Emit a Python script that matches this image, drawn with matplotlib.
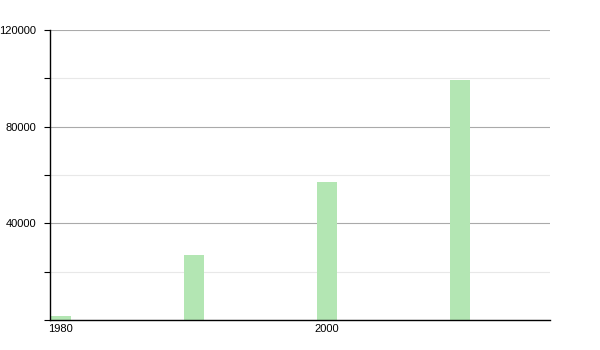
import matplotlib

matplotlib.use("Agg")
import matplotlib.pyplot as plt
from matplotlib.ticker import MultipleLocator

years = [1980, 1990, 2000, 2010]
values = [1700, 26800, 57000, 99500]
x_ticks = [1980, 2000]
y_major = [40000, 80000, 120000]

plt.rcParams["font.family"] = ["Liberation Sans", "DejaVu Sans"]

fig = plt.figure(figsize=(6, 3.5), dpi=100)
ax = fig.add_axes([50 / 600, 30 / 350, 500 / 600, 290 / 350])

ax.bar(years, values, width=1.5, color="#b3e6b3", zorder=2)

ax.set_xlim(1979.2, 2016.8)
ax.set_ylim(0, 120000)

ax.set_xticks(x_ticks)
ax.set_xticklabels([str(t) for t in x_ticks])
ax.tick_params(axis="x", length=0, pad=3, labelsize=8)

ax.set_yticks(y_major)
ax.set_yticklabels([str(t) for t in y_major])
ax.yaxis.set_minor_locator(MultipleLocator(20000))
ax.tick_params(axis="y", which="both", length=4.5, width=0.8, pad=5.5, labelsize=8)

ax.grid(axis="y", which="major", color="#aaaaaa", linewidth=0.8, zorder=0)
ax.grid(axis="y", which="minor", color="#e8e8e8", linewidth=0.8, zorder=0)

for side in ["top", "right"]:
    ax.spines[side].set_visible(False)
ax.spines["left"].set_linewidth(1)
ax.spines["bottom"].set_linewidth(1)

fig.savefig("out.png", dpi=100)
